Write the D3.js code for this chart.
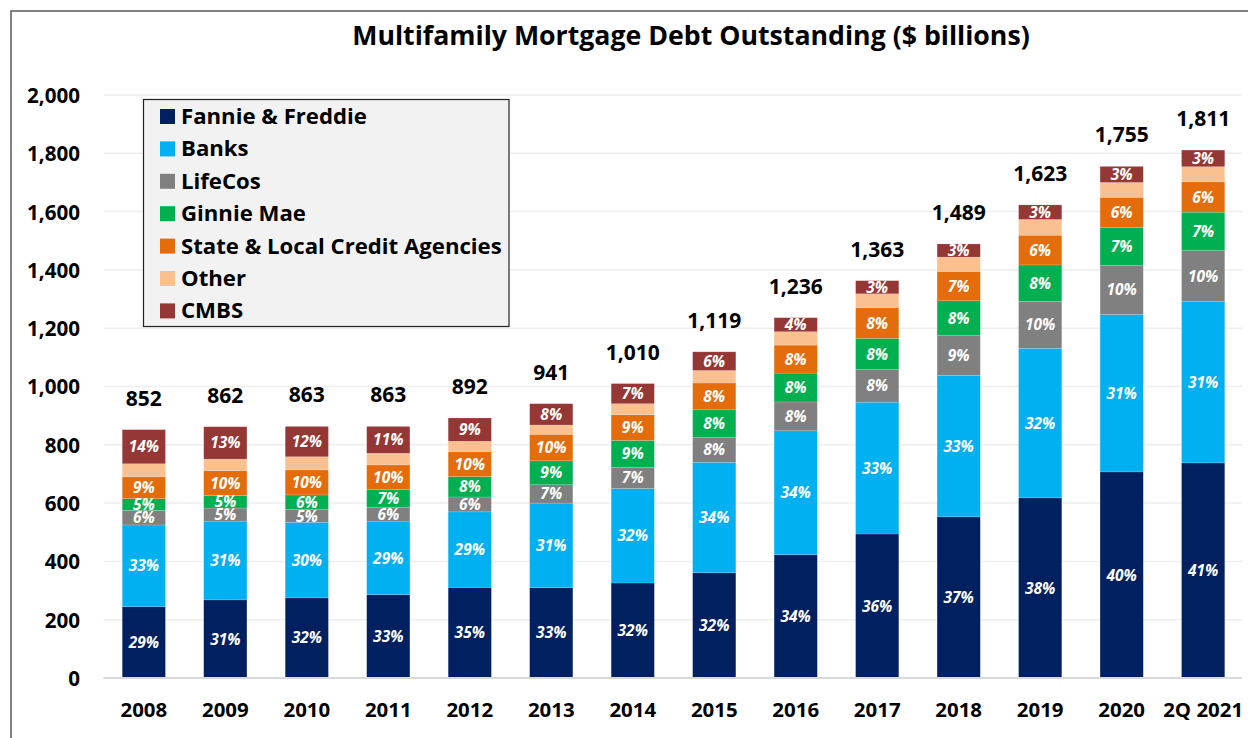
<!DOCTYPE html>
<html>
<head>
<meta charset="utf-8">
<script src="https://cdn.jsdelivr.net/npm/d3@7/dist/d3.min.js"></script>
<style>
  html, body { margin: 0; padding: 0; background: #fff; }
  svg { display: block; font-family: "Open Sans", Lato, sans-serif; }
</style>
</head>
<body>
<svg id="chart" width="1248" height="738"></svg>
<script>
// ---- Data ($ billions) ----
const categories = ["2008","2009","2010","2011","2012","2013","2014","2015","2016","2017","2018","2019","2020","2Q 2021"];
const seriesNames = ["Fannie & Freddie","Banks","LifeCos","Ginnie Mae","State & Local Credit Agencies","Other","CMBS"];
const fannieFreddie = [245, 268, 275, 286, 311, 310, 326, 361, 423, 494, 553, 618, 707, 738];
const banks         = [280, 270, 259, 250, 259, 290, 324, 379, 425, 452, 485, 513, 540, 553];
const lifeCos       = [ 50,  45,  44,  50,  51,  63,  73,  86,  99, 112, 138, 161, 169, 175];
const ginnieMae     = [ 40,  43,  50,  60,  70,  82,  92,  94,  99, 107, 118, 125, 130, 132];
const stateLocal    = [ 75,  85,  86,  85,  85,  91,  88,  92,  96, 105, 101, 102, 103, 104];
const other         = [ 45,  40,  45,  40,  36,  32,  38,  43,  46,  48,  49,  54,  51,  52];
const cmbs          = [117, 111, 104,  92,  80,  73,  69,  64,  48,  45,  45,  50,  55,  57];
const yTicks = [0, 200, 400, 600, 800, 1000, 1200, 1400, 1600, 1800, 2000];

const seriesValues = [fannieFreddie, banks, lifeCos, ginnieMae, stateLocal, other, cmbs];
const colors = ["#002060", "#00B0F0", "#808080", "#00B050", "#E46C0A", "#FAC090", "#953735"];
const showPct = [true, true, true, true, true, false, true];

const rows = categories.map((c, i) => {
  const r = { cat: c };
  seriesNames.forEach((s, j) => r[s] = seriesValues[j][i]);
  r.total = d3.sum(seriesValues, v => v[i]);
  return r;
});

const FONT = "'Open Sans', Lato, sans-serif";
const svg = d3.select("#chart");

// scale a text selection so its widest member reaches target width
function fitWidth(sel, size, target) {
  let w = 0;
  sel.each(function () { w = Math.max(w, this.getComputedTextLength()); });
  if (w > 0) sel.attr("font-size", size * target / w);
}

// outer frame
svg.append("rect").attr("x", 11).attr("y", 11).attr("width", 1400).attr("height", 900)
  .attr("fill", "none").attr("stroke", "#595959").attr("stroke-width", 1.5);

const x = d3.scaleBand().domain(categories).range([103.5, 1243.5])
  .paddingInner(0.47).paddingOuter(0.23);
const y = d3.scaleLinear().domain([0, 2000]).range([678, 95]);

// gridlines
svg.append("g").selectAll("line").data(yTicks.filter(t => t > 0)).join("line")
  .attr("x1", 103.5).attr("x2", 1242).attr("y1", d => y(d)).attr("y2", d => y(d))
  .attr("stroke", "#eeeeee").attr("stroke-width", 1.5);

// y axis labels
const yAxis = d3.axisLeft(y).tickValues(yTicks).tickFormat(d3.format(",")).tickSize(0).tickPadding(0);
const yg = svg.append("g").attr("transform", "translate(80,0)").call(yAxis);
yg.select(".domain").remove();
yg.selectAll("text").attr("font-family", FONT).attr("font-size", 20)
  .attr("font-weight", "bold").attr("fill", "#000").attr("dy", "0.36em");
fitWidth(yg.selectAll("text"), 20, 53);

// stacked bars
const stack = d3.stack().keys(seriesNames)(rows);
const layers = svg.append("g").selectAll("g").data(stack).join("g")
  .attr("fill", (d, i) => colors[i]);
layers.selectAll("rect").data(d => d).join("rect")
  .attr("x", d => x(d.data.cat))
  .attr("width", x.bandwidth())
  .attr("y", d => y(d[1]))
  .attr("height", d => y(d[0]) - y(d[1]))
  .attr("stroke", "rgba(255,255,255,0.25)").attr("stroke-width", 0.6);

// percentage labels
stack.forEach((layer, i) => {
  if (!showPct[i]) return;
  svg.append("g").selectAll("text").data(layer).join("text")
    .attr("x", d => x(d.data.cat) + x.bandwidth() / 2)
    .attr("y", d => (y(d[0]) + y(d[1])) / 2)
    .attr("dy", "0.36em")
    .attr("text-anchor", "middle")
    .attr("font-family", FONT)
    .attr("font-size", 15.5).attr("font-weight", "bold").attr("font-style", "italic")
    .attr("fill", "#fff")
    .text(d => Math.round((d[1] - d[0]) / d.data.total * 100) + "%");
});

// total labels
svg.append("g").selectAll("text").data(rows).join("text")
  .attr("x", d => x(d.cat) + x.bandwidth() / 2)
  .attr("y", d => y(d.total) - 24)
  .attr("text-anchor", "middle")
  .attr("font-family", FONT)
  .attr("font-size", 21).attr("font-weight", "bold").attr("fill", "#000")
  .text(d => d3.format(",")(d.total));

// x axis
svg.append("line").attr("x1", 103.5).attr("x2", 1242).attr("y1", y(0)).attr("y2", y(0))
  .attr("stroke", "#d9d9d9").attr("stroke-width", 2);
const xAxis = d3.axisBottom(x).tickSize(0).tickPadding(0);
const xg = svg.append("g").attr("transform", "translate(0,717)").call(xAxis);
xg.select(".domain").remove();
xg.selectAll("text").attr("font-family", FONT).attr("font-size", 20)
  .attr("font-weight", "bold").attr("fill", "#000").attr("dy", 0);
fitWidth(xg.selectAll("text"), 20, 80);

// title
const title = svg.append("text").attr("x", 691).attr("y", 45).attr("text-anchor", "middle")
  .attr("font-family", FONT)
  .attr("font-size", 26).attr("font-weight", "bold").attr("fill", "#000")
  .text("Multifamily Mortgage Debt Outstanding ($ billions)");
fitWidth(title, 26, 678);

// legend
const lg = svg.append("g");
lg.append("rect").attr("x", 143.5).attr("y", 99.5).attr("width", 365.5).attr("height", 227)
  .attr("fill", "#f2f2f2").attr("stroke", "#222").attr("stroke-width", 1.2);
const items = lg.selectAll("g.item").data(seriesNames).join("g").attr("class", "item")
  .attr("transform", (d, i) => `translate(160, ${124 + i * 32.4})`);
items.append("rect").attr("x", 0).attr("y", -15).attr("width", 15).attr("height", 15)
  .attr("fill", (d, i) => colors[i]);
const ltext = items.append("text").attr("x", 21).attr("y", 0)
  .attr("font-family", FONT)
  .attr("font-size", 22).attr("font-weight", "bold").attr("fill", "#000")
  .text(d => d);
fitWidth(ltext, 22, 321);
</script>
</body>
</html>
